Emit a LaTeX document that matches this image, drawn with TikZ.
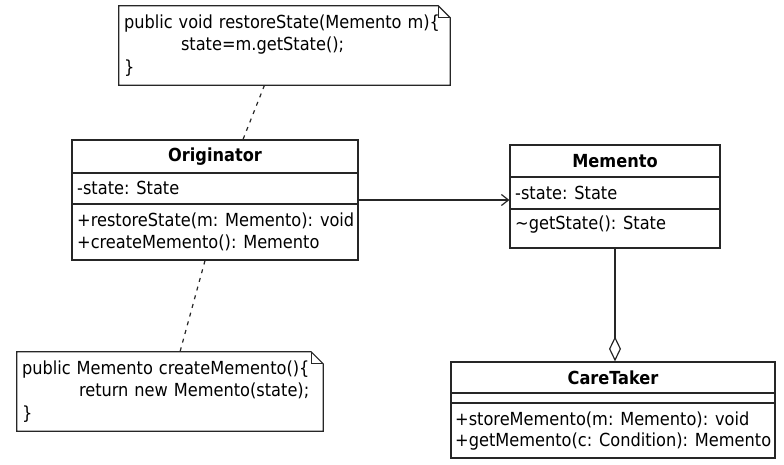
\documentclass[tikz,border=0pt]{standalone}
\usepackage{fontspec}
\setmainfont{DejaVu Sans Condensed}
\usetikzlibrary{arrows.meta}

\tikzset{
  every node/.style={font=\fontsize{18}{22.5}\selectfont},
  umlline/.style={line width=1.2pt, draw=black!85},
  cls/.style={umlline, draw, rectangle, minimum width=#1},
  memo/.style={align=left, inner xsep=5pt, minimum height=79pt},
  mtxt/.style={anchor=west, inner sep=0pt},
  ctitle/.style={inner sep=0pt, font=\fontsize{18}{22.5}\selectfont\bfseries},
  notelink/.style={umlline, dash pattern=on 4pt off 5pt},
}

\begin{document}
\begin{tikzpicture}[x=1pt, y=-1pt]
\useasboundingbox (0,0) rectangle (784,464);

% notes
\node[memo, text width=321pt] (note1) at (284.5,45.5)
  {public void restoreState(Memento m)\{\\\hspace*{57pt}state=m.getState();\\\}};
\draw[umlline] (note1.south west) -- (note1.north west) -- ([xshift=-12pt]note1.north east)
  -- ([yshift=-12pt]note1.north east) -- (note1.south east) -- cycle;
\draw[umlline] ([xshift=-12pt]note1.north east) |- ([yshift=-12pt]note1.north east);

\node[memo, text width=296pt] (note2) at (170,391.5)
  {public Memento createMemento()\{\\\hspace*{57pt}return new Memento(state);\\\}};
\draw[umlline] (note2.south west) -- (note2.north west) -- ([xshift=-12pt]note2.north east)
  -- ([yshift=-12pt]note2.north east) -- (note2.south east) -- cycle;
\draw[umlline] ([xshift=-12pt]note2.north east) |- ([yshift=-12pt]note2.north east);

% Originator
\node[cls=286pt, minimum height=120pt] (orig) at (215,200) {};
\draw[umlline] (orig.west |- 0,173) -- (orig.east |- 0,173);
\draw[umlline] (orig.west |- 0,204) -- (orig.east |- 0,204);
\node[ctitle] (origname) at (215,157) {Originator};
\node[mtxt] (origattr) at (77,188) {-state: State};
\node[mtxt] (origop1) at (77,221) {+restoreState(m: Memento): void};
\node[mtxt] (origop2) at (77,243) {+createMemento(): Memento};

% Memento
\node[cls=210pt, minimum height=103pt] (mem) at (615,196.5) {};
\draw[umlline] (mem.west |- 0,177) -- (mem.east |- 0,177);
\draw[umlline] (mem.west |- 0,209) -- (mem.east |- 0,209);
\node[ctitle] (memname) at (615,161) {Memento};
\node[mtxt] (memattr) at (515,193) {-state: State};
\node[mtxt] (memop1) at (515,225) {\textasciitilde getState(): State};

% CareTaker
\node[cls=324pt, minimum height=96pt] (care) at (613,410) {};
\draw[umlline] (care.west |- 0,393) -- (care.east |- 0,393);
\draw[umlline] (care.west |- 0,403) -- (care.east |- 0,403);
\node[ctitle] (carename) at (613,378) {CareTaker};
\node[mtxt] (careop1) at (455,420) {+storeMemento(m: Memento): void};
\node[mtxt] (careop2) at (455,442) {+getMemento(c: Condition): Memento};

% links
\draw[umlline, -{Straight Barb[length=7pt, width=11pt]}] (orig.east) -- (orig.east -| mem.west);
\draw[umlline, -{Diamond[open, length=25pt, width=12pt]}] (mem.south) -- (mem.south |- care.north);
\draw[notelink] ([xshift=-20pt]note1.south) -- ([xshift=28pt]orig.north);
\draw[notelink] ([xshift=-10pt]orig.south) -- ([xshift=10pt]note2.north);

\end{tikzpicture}
\end{document}
